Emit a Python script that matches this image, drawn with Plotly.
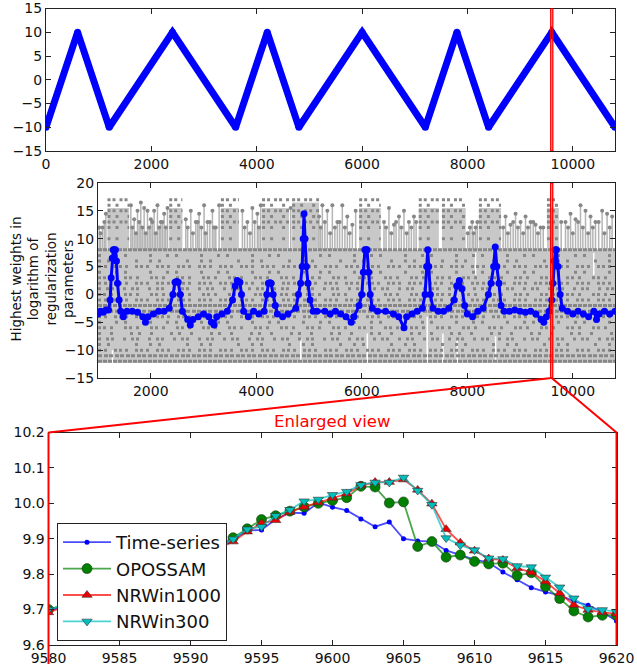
import plotly.graph_objects as go

W, H = 637, 670
FONT = "DejaVu Sans"

# ---------------- data ----------------
# Top panel: triangle-wave vertices
top_x = [0, 600, 1200, 2400, 3600, 4200, 4800, 6000, 7200, 7800, 8400, 9600, 10800]
top_y = [-10, 10, -10, 10, -10, 10, -10, 10, -10, 10, -10, 10, -10]

# Middle panel: highest weight (blue)
mid_x = [1000, 1050, 1100, 1150, 1200, 1230, 1250, 1270, 1290, 1310, 1330, 1350, 1370, 1400, 1430, 1480,
         1550, 1650, 1750, 1850, 1900, 1950, 2050, 2150, 2250, 2350, 2420, 2460, 2490, 2520, 2560, 2600,
         2700, 2750, 2800, 2900, 3000, 3100, 3150, 3200, 3250, 3350, 3450, 3550, 3600, 3640, 3690, 3720,
         3760, 3850, 3950, 4050, 4150, 4200, 4230, 4260, 4280, 4320, 4360, 4400, 4500, 4600, 4750, 4800,
         4840, 4870, 4890, 4905, 4925, 4950, 4980, 5020, 5080, 5150, 5300, 5400, 5500, 5600, 5700, 5800,
         5850, 5950, 6000, 6030, 6060, 6080, 6100, 6130, 6160, 6200, 6300, 6450, 6600, 6700, 6800, 6850,
         6950, 7050, 7150, 7200, 7230, 7250, 7270, 7300, 7350, 7450, 7550, 7650, 7750, 7800, 7850, 7900,
         7950, 8000, 8100, 8200, 8300, 8400, 8450, 8500, 8530, 8560, 8600, 8640, 8700, 8800, 8900, 9000,
         9100, 9200, 9300, 9400, 9450, 9500, 9550, 9600, 9620, 9650, 9670, 9690, 9720, 9760, 9800, 9900,
         10000, 10100, 10200, 10300, 10400, 10450, 10500, 10600, 10700, 10800]
mid_y = [-3.5, -3.0, -3.2, -2.8, -2.8, -1.0, 3.0, 6.5, 8.0, 8.0, 8.0, 6.0, 2.0, -1.0, -3.0, -4.0,
         -3.0, -3.0, -3.2, -4.0, -5.0, -4.0, -3.5, -3.0, -3.0, -2.5, 0.0, 2.2, 2.3, 2.2, 0.0, -3.0,
         -4.5, -5.5, -4.5, -4.0, -3.5, -4.0, -5.0, -5.5, -4.0, -3.5, -3.0, -1.0, 1.5, 2.5, 2.2, 0.0,
         -3.0, -4.0, -3.0, -3.5, -3.0, 0.0, 2.0, 2.1, 2.0, 0.0, -2.0, -3.5, -4.0, -3.5, -2.5, 0.0,
         2.0, 5.0, 10.0, 14.5, 10.0, 5.0, 2.0, -1.0, -3.0, -3.0, -3.0, -3.5, -3.0, -3.5, -4.0, -5.0,
         -4.0, -2.0, 0.0, 4.0, 8.0, 8.0, 8.0, 4.0, 0.0, -2.5, -3.0, -3.0, -3.5, -4.0, -6.0, -4.0,
         -3.5, -3.0, -2.5, 0.0, 5.0, 8.0, 5.0, 0.0, -2.5, -3.0, -3.0, -2.5, -1.0, 1.5, 2.5, 1.0,
         -2.0, -3.5, -4.0, -3.0, -2.5, 0.0, 2.0, 5.0, 8.5, 5.0, 2.0, -2.0, -3.0, -3.0, -2.8, -3.0,
         -3.2, -3.0, -3.5, -4.5, -5.0, -4.0, -3.0, -1.0, 2.0, 6.0, 8.0, 8.0, 5.0, 0.0, -2.5, -3.0,
         -3.5, -3.0, -3.5, -4.0, -3.0, -4.5, -3.5, -3.0, -3.5, -3.0]

# Middle panel: gray cloud of candidate weights
cloud_x0, cloud_x1 = 1000, 10800
cloud_lo, cloud_hi = -12.3, 8
gray_levels = [8, 7, 6, 5, 4, 3, 2, 1, 0, -1, -2, -3, -4, -5, -6, -7, -8, -9, -10, -11, -12]
gray_density = ['dense', 'sparse', 'sparse', 'medium', 'sparse', 'medium', 'medium', 'medium', 'medium',
                'medium', 'dense', 'dense', 'medium', 'sparse', 'medium', 'sparse', 'medium', 'sparse',
                'medium', 'dense', 'dense']
gap_x = [1275, 4843, 6105, 7241, 7538, 7809, 8536, 8157, 10398]
gap_lo = [-12.3, -12.3, -12.3, -12.3, -12.3, -12.3, -12.3, 3.5, 3.5]
gap_hi = [-10, -8, -7, -4, -7, -8, -7.5, 7.5, 7.5]

stem_x = [1023, 1086, 1149, 1623, 1686, 1749, 1812, 1875, 1938, 2001, 2064, 2127, 2191, 2254, 2317,
          2664, 2759, 2854, 2917, 3011, 3075, 3169, 3233, 3296, 3737, 3832, 3926, 4021, 4085, 4653,
          5190, 5253, 5347, 5442, 5537, 5631, 5726, 5821, 5884, 6421, 6515, 6610, 6705, 6800, 6894,
          6989, 8093, 8157, 8725, 8820, 8915, 9010, 9104, 9199, 9294, 9389, 9862, 9957, 10052, 10146,
          10241, 10336, 10430, 10556, 10650, 10745,
          1050, 1120, 1650, 1720, 1780, 1840, 1905, 1970, 2030, 2095, 2160, 2220, 2285, 2700, 2800,
          2890, 2960, 3040, 3120, 3200, 3780, 3880, 3970, 4050, 5220, 5300, 5400, 5490, 5580, 5680,
          5770, 6460, 6560, 6650, 6750, 6850, 6940, 7030, 8010, 8050, 8120, 8190, 8680, 8770, 8870,
          8960, 9060, 9150, 9250, 9340, 9440, 9780, 9910, 10000, 10100, 10190, 10290, 10380, 10490,
          10600, 10700]
stem_top = [12, 12, 14.5, 16, 13.5, 15, 16.5, 15.5, 15, 13.5, 15, 16, 13, 14.5, 15.5,
            13.5, 15, 13, 14.5, 16, 13, 15, 12, 16, 15, 13, 15.5, 14.5, 16, 15.5,
            14, 16, 15, 16, 13, 16, 14, 12.5, 15, 13, 15.5, 12.5, 14, 15, 13,
            14, 13, 12, 14, 12.5, 14.5, 13, 14, 13, 12.5, 12, 13, 14.5, 13.5, 16,
            15, 14, 13, 15, 14.5, 14,
            11, 13, 12, 11, 13, 12, 11, 12, 13, 11, 12, 13, 12, 12, 11,
            13, 12, 11, 13, 12, 12, 11, 13, 12, 12, 13, 11, 12, 13, 12,
            11, 12, 11, 13, 12, 11, 12, 13, 11, 12, 11, 13, 12, 11, 13,
            12, 11, 12, 13, 11, 12, 13, 12, 11, 13, 12, 11, 12, 13,
            11, 12]

cluster_x0 = [1180, 2350, 3330, 4110, 4680, 5950, 7080, 7520, 8220, 9510]
cluster_x1 = [1590, 2600, 3670, 4620, 5190, 6360, 7460, 7970, 8640, 9735]
cluster_top = [17, 17, 17, 17, 18, 17, 17, 17, 17, 17]

band_x0, band_x1 = 9580, 9620

# Bottom panel: enlarged view
bx = [9580, 9581, 9582, 9583, 9584, 9585, 9586, 9587, 9588, 9589, 9590, 9591, 9592, 9593, 9594,
      9595, 9596, 9597, 9598, 9599, 9600, 9601, 9602, 9603, 9604, 9605, 9606, 9607, 9608, 9609,
      9610, 9611, 9612, 9613, 9614, 9615, 9616, 9617, 9618, 9619, 9620]
ts = [9.695, 9.710, 9.725, 9.740, 9.755, 9.770, 9.785, 9.800, 9.815, 9.830, 9.845, 9.860, 9.877, 9.897,
      9.923, 9.925, 9.955, 9.974, 9.972, 10.002, 9.989, 9.980, 9.956, 9.934, 9.947, 9.900, 9.894,
      9.892, 9.867, 9.855, 9.841, 9.833, 9.806, 9.784, 9.762, 9.750, 9.740, 9.724, 9.712, 9.694, 9.668]
opossam = [9.700, 9.712, 9.727, 9.742, 9.757, 9.772, 9.787, 9.802, 9.817, 9.832, 9.848, 9.864, 9.882,
           9.903, 9.928, 9.954, 9.965, 9.978, 9.990, 10.000, 10.008, 10.016, 10.048, 10.046, 10.001,
           10.004, 9.878, 9.892, 9.848, 9.854, 9.836, 9.829, 9.831, 9.796, 9.804, 9.765, 9.731, 9.696,
           9.679, 9.684, 9.684]
nrwin1000 = [9.692, 9.705, 9.720, 9.735, 9.750, 9.765, 9.780, 9.795, 9.810, 9.825, 9.840, 9.856, 9.873,
             9.892, 9.920, 9.944, 9.952, 9.975, 9.990, 10.002, 10.015, 10.027, 10.050, 10.060, 10.060,
             10.067, 10.038, 9.999, 9.927, 9.889, 9.866, 9.844, 9.840, 9.817, 9.805, 9.779, 9.746,
             9.713, 9.699, 9.692, 9.688]
nrwin300 = [9.700, 9.712, 9.727, 9.742, 9.757, 9.772, 9.787, 9.802, 9.817, 9.832, 9.847, 9.862, 9.879,
            9.899, 9.927, 9.934, 9.965, 9.982, 10.006, 10.011, 10.024, 10.033, 10.052, 10.059, 10.059,
            10.073, 10.036, 9.996, 9.902, 9.882, 9.868, 9.845, 9.843, 9.823, 9.820, 9.791, 9.763,
            9.732, 9.702, 9.699, 9.694]

top_xticks = [0, 2000, 4000, 6000, 8000, 10000]
mid_xticks = [2000, 4000, 6000, 8000, 10000]
bot_xticks = [9580, 9585, 9590, 9595, 9600, 9605, 9610, 9615, 9620]

# ---------------- layout geometry (pixels) ----------------
def px_x(p):
    return p / W

def px_y(p):
    return 1 - p / H

top_dom_x = [px_x(46), px_x(615)]
top_dom_y = [px_y(151), px_y(8.5)]
mid_dom_x = [px_x(98), px_x(615)]
mid_dom_y = [px_y(378), px_y(183)]
bot_dom_x = [px_x(48.5), px_x(616.5)]
bot_dom_y = [px_y(645), px_y(432.5)]

fig = go.Figure()
NOHOVER = dict(hoverinfo='skip', showlegend=False)

# ---- top panel ----
fig.add_trace(go.Scatter(x=top_x, y=top_y, mode='lines+markers',
                         line=dict(color='#0000ff', width=7),
                         marker=dict(color='#0000ff', size=7),
                         xaxis='x', yaxis='y', **NOHOVER))

# ---- middle panel ----
GRAY_FILL = '#c8c8c8'
GRAY_DOT = '#878787'
fig.add_trace(go.Scatter(x=[cloud_x0, cloud_x1, cloud_x1, cloud_x0, cloud_x0],
                         y=[cloud_lo, cloud_lo, cloud_hi, cloud_hi, cloud_lo],
                         mode='lines', fill='toself', fillcolor=GRAY_FILL,
                         line=dict(width=0, color=GRAY_FILL), xaxis='x2', yaxis='y2', **NOHOVER))

# clusters above level 8
cx, cy = [], []
for x0, x1, t in zip(cluster_x0, cluster_x1, cluster_top):
    cx += [x0, x1, x1, x0, x0, None]
    cy += [8, 8, t - 1.5, t - 1.5, 8, None]
fig.add_trace(go.Scatter(x=cx, y=cy, mode='lines', fill='toself', fillcolor=GRAY_FILL,
                         line=dict(width=0, color=GRAY_FILL), xaxis='x2', yaxis='y2', **NOHOVER))

# stems above level 8
sx, sy = [], []
for x, t in zip(stem_x, stem_top):
    sx += [x, x, None]
    sy += [8, t, None]
fig.add_trace(go.Scatter(x=sx, y=sy, mode='lines', line=dict(color='#b4b4b4', width=1.5),
                         xaxis='x2', yaxis='y2', **NOHOVER))
fig.add_trace(go.Scatter(x=stem_x, y=stem_top, mode='markers',
                         marker=dict(color=GRAY_DOT, size=4),
                         xaxis='x2', yaxis='y2', **NOHOVER))

# white gaps in cloud
gx, gy = [], []
for x, lo, hi in zip(gap_x, gap_lo, gap_hi):
    gx += [x, x, None]
    gy += [lo, hi, None]
fig.add_trace(go.Scatter(x=gx, y=gy, mode='lines', line=dict(color='white', width=1.5),
                         xaxis='x2', yaxis='y2', **NOHOVER))

# dotted rows
dash_sets = {
    'dense': ['4px,1px', '4px,2px,4px,1px'],
    'medium': ['3px,3px,3px,7px,3px,2px', '3px,5px,3px,2px,3px,9px', '3px,2px,3px,4px,3px,11px'],
    'sparse': ['3px,9px,3px,17px,3px,5px', '3px,14px,3px,6px,3px,22px', '3px,6px,3px,25px,3px,11px'],
}
for i, (lvl, den) in enumerate(zip(gray_levels, gray_density)):
    pats = dash_sets[den]
    fig.add_trace(go.Scatter(x=[cloud_x0, cloud_x1], y=[lvl, lvl], mode='lines',
                             line=dict(color=GRAY_DOT, width=3, dash=pats[i % len(pats)]),
                             xaxis='x2', yaxis='y2', **NOHOVER))

# dotted rows inside clusters
for j, lvl in enumerate([10, 12, 13, 14, 15, 16, 17]):
    rx, ry = [], []
    for x0, x1, t in zip(cluster_x0, cluster_x1, cluster_top):
        if lvl <= t:
            rx += [x0, x1, None]
            ry += [lvl, lvl, None]
    fig.add_trace(go.Scatter(x=rx, y=ry, mode='lines',
                             line=dict(color=GRAY_DOT, width=3,
                                       dash='3px,2px,3px,4px' if lvl in (13, 15, 17) else '3px,5px,3px,9px'),
                             xaxis='x2', yaxis='y2', **NOHOVER))

# blue highest weights
fig.add_trace(go.Scatter(x=mid_x, y=mid_y, mode='lines+markers',
                         line=dict(color='#0000ff', width=3),
                         marker=dict(color='#0000ff', size=7),
                         xaxis='x2', yaxis='y2', **NOHOVER))

# ---- bottom panel ----
fig.add_trace(go.Scatter(x=bx, y=ts, mode='lines+markers', name='Time-series',
                         line=dict(color='rgba(0,0,255,0.7)', width=1.8),
                         marker=dict(color='#0000ff', size=5, symbol='circle'),
                         xaxis='x3', yaxis='y3'))
fig.add_trace(go.Scatter(x=bx, y=opossam, mode='lines+markers', name='OPOSSAM',
                         line=dict(color='rgba(0,128,0,0.7)', width=1.8),
                         marker=dict(color='#008000', size=10, symbol='circle',
                                     line=dict(color='#1a3a1a', width=0.6)),
                         xaxis='x3', yaxis='y3'))
fig.add_trace(go.Scatter(x=bx, y=nrwin1000, mode='lines+markers', name='NRWin1000',
                         line=dict(color='rgba(255,0,0,0.7)', width=1.8),
                         marker=dict(color='#ee0000', size=9, symbol='triangle-up',
                                     line=dict(color='#333333', width=0.6)),
                         xaxis='x3', yaxis='y3'))
fig.add_trace(go.Scatter(x=bx, y=nrwin300, mode='lines+markers', name='NRWin300',
                         line=dict(color='rgba(0,191,191,0.7)', width=1.8),
                         marker=dict(color='#00bfbf', size=9, symbol='triangle-down',
                                     line=dict(color='#333333', width=0.6)),
                         xaxis='x3', yaxis='y3'))

# ---------------- axes ----------------
tickfont = dict(family=FONT, size=14, color='#111111')
axis_common = dict(showgrid=False, zeroline=False, showline=True, linecolor='#222222', linewidth=1,
                   mirror='allticks', ticks='inside', ticklen=5, tickcolor='#222222',
                   tickfont=tickfont, automargin=False)

fig.update_layout(
    width=W, height=H,
    margin=dict(l=0, r=0, t=0, b=0),
    paper_bgcolor='white', plot_bgcolor='white',
    template='none',
    font=dict(family=FONT, size=14, color='#111111'),
    xaxis=dict(domain=top_dom_x, range=[0, 10800], tickvals=top_xticks,
               ticktext=[str(v) for v in top_xticks], anchor='y', **axis_common),
    yaxis=dict(domain=top_dom_y, range=[-15, 15], tickvals=[-15, -10, -5, 0, 5, 10, 15],
               anchor='x', **axis_common),
    xaxis2=dict(domain=mid_dom_x, range=[1000, 10800], tickvals=mid_xticks,
                ticktext=[str(v) for v in mid_xticks], anchor='y2', **axis_common),
    yaxis2=dict(domain=mid_dom_y, range=[-15, 20], tickvals=[-15, -10, -5, 0, 5, 10, 15, 20],
                anchor='x2', **axis_common),
    xaxis3=dict(domain=bot_dom_x, range=[9580, 9620], tickvals=bot_xticks,
                ticktext=[str(v) for v in bot_xticks], anchor='y3', **axis_common),
    yaxis3=dict(domain=bot_dom_y, range=[9.6, 10.2], tickvals=[9.6, 9.7, 9.8, 9.9, 10.0, 10.1, 10.2],
                tickformat='.1f', anchor='x3', **axis_common),
    showlegend=True,
    legend=dict(x=px_x(57), y=px_y(523), xanchor='left', yanchor='top',
                bgcolor='white', bordercolor='#222222', borderwidth=1,
                font=dict(family=FONT, size=18, color='#111111'),
                itemwidth=48, tracegroupgap=0),
)

# ---------------- shapes: highlighted band and connectors ----------------
shapes = []
for xr, yr, ylo, yhi in [('x', 'y', -15, 15), ('x2', 'y2', -15, 20)]:
    shapes.append(dict(type='rect', xref=xr, yref=yr, x0=band_x0, x1=band_x1, y0=ylo, y1=yhi,
                       line=dict(color='#ff0000', width=1.3), fillcolor='rgba(255,0,0,0.3)',
                       layer='above'))

band_mid = (band_x0 + band_x1) / 2
bp_x = mid_dom_x[0] + (band_mid - 1000) / (10800 - 1000) * (mid_dom_x[1] - mid_dom_x[0])
bp_y = mid_dom_y[0]
for tx in (bot_dom_x[0], bot_dom_x[1]):
    shapes.append(dict(type='line', xref='paper', yref='paper', x0=bp_x, y0=bp_y, x1=tx, y1=bot_dom_y[1],
                       line=dict(color='#ff0000', width=2), layer='above'))
shapes.append(dict(type='line', xref='paper', yref='paper', x0=bot_dom_x[0], y0=bot_dom_y[1],
                   x1=bot_dom_x[0], y1=px_y(664), line=dict(color='#ff0000', width=2), layer='above'))
shapes.append(dict(type='line', xref='paper', yref='paper', x0=bot_dom_x[1], y0=bot_dom_y[1],
                   x1=bot_dom_x[1], y1=bot_dom_y[0], line=dict(color='#ff0000', width=2), layer='above'))
fig.update_layout(shapes=shapes)

# ---------------- annotations ----------------
fig.add_annotation(text='Enlarged view', xref='paper', yref='paper', x=px_x(332), y=px_y(421),
                   xanchor='center', yanchor='middle', showarrow=False,
                   font=dict(family=FONT, size=16.5, color='#ff0000'))
fig.add_annotation(text='Highest weights in<br>logarithm of<br>regularization<br>parameters',
                   xref='paper', yref='paper', x=px_x(41.5), y=px_y(279), textangle=-90,
                   xanchor='center', yanchor='middle', showarrow=False,
                   font=dict(family=FONT, size=13.5, color='#111111'))

fig.write_html("out.html", config={'displayModeBar': False},
               post_script="document.body.style.margin='0';document.body.style.overflow='hidden';")
